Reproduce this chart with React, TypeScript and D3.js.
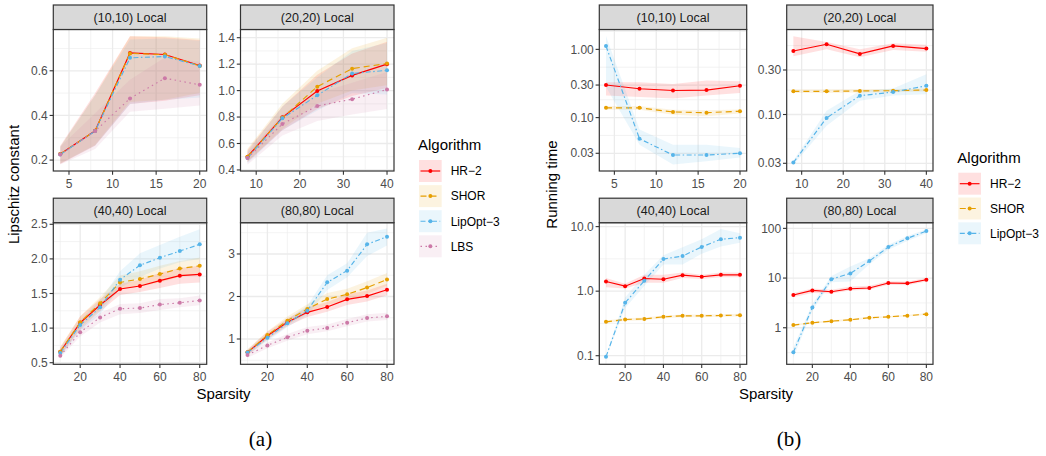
import * as d3 from "d3";

const FONT = "'Liberation Sans', Arial, Helvetica, sans-serif";

// algorithms, in legend / drawing order
const algorithms = ["HR\u22122", "SHOR", "LipOpt\u22123", "LBS"];
const colors = ["#FF0000", "#E69F00", "#56B4E9", "#CC79A7"];
const dashes = ["", "6,4", "5,2.5,1.5,2.5", "1.5,3.5"];

// sparsity values per network size
const sp10 = [4, 8, 12, 16, 20];
const sp20 = [8, 16, 24, 32, 40];
const sp40 = [10, 20, 30, 40, 50, 60, 70, 80];
const sp80 = [10, 20, 30, 40, 50, 60, 70, 80];

// ---- (a) Lipschitz constant ----
// (10,10)
const lc10Hr = [0.227, 0.331, 0.68, 0.673, 0.624];
const lc10HrLo = [0.182, 0.264, 0.451, 0.466, 0.49];
const lc10HrHi = [0.264, 0.5, 0.755, 0.75, 0.738];
const lc10Shor = [0.227, 0.331, 0.678, 0.672, 0.622];
const lc10ShorLo = [0.185, 0.268, 0.46, 0.47, 0.5];
const lc10ShorHi = [0.26, 0.49, 0.755, 0.755, 0.745];
const lc10Lip = [0.225, 0.33, 0.658, 0.664, 0.622];
const lc10LipLo = [0.185, 0.265, 0.45, 0.47, 0.48];
const lc10LipHi = [0.26, 0.49, 0.74, 0.745, 0.735];
const lc10Lbs = [0.225, 0.33, 0.476, 0.567, 0.537];
const lc10LbsLo = [0.18, 0.25, 0.417, 0.43, 0.444];
const lc10LbsHi = [0.26, 0.41, 0.56, 0.66, 0.64];
// (20,20)
const lc20Hr = [0.5, 0.798, 0.997, 1.115, 1.2];
const lc20HrLo = [0.46, 0.7, 0.86, 0.96, 1.02];
const lc20HrHi = [0.55, 0.88, 1.12, 1.28, 1.37];
const lc20Shor = [0.5, 0.795, 1.03, 1.166, 1.205];
const lc20ShorLo = [0.46, 0.71, 0.9, 1.0, 1.04];
const lc20ShorHi = [0.56, 0.9, 1.15, 1.32, 1.4];
const lc20Lip = [0.49, 0.79, 0.964, 1.13, 1.153];
const lc20LipLo = [0.45, 0.7, 0.85, 0.98, 0.97];
const lc20LipHi = [0.54, 0.88, 1.1, 1.3, 1.36];
const lc20Lbs = [0.49, 0.748, 0.884, 0.935, 1.008];
const lc20LbsLo = [0.44, 0.66, 0.77, 0.82, 0.86];
const lc20LbsHi = [0.53, 0.82, 0.98, 1.06, 1.14];
// (40,40)
const lc40Hr = [0.659, 1.078, 1.334, 1.565, 1.608, 1.686, 1.758, 1.776];
const lc40HrLo = [0.6, 0.98, 1.24, 1.48, 1.52, 1.58, 1.64, 1.66];
const lc40HrHi = [0.72, 1.17, 1.42, 1.64, 1.7, 1.8, 1.87, 1.9];
const lc40Shor = [0.66, 1.083, 1.36, 1.66, 1.71, 1.78, 1.86, 1.9];
const lc40ShorLo = [0.6, 1.0, 1.26, 1.56, 1.6, 1.66, 1.74, 1.78];
const lc40ShorHi = [0.73, 1.17, 1.45, 1.76, 1.82, 1.9, 1.97, 2.02];
const lc40Lip = [0.64, 1.045, 1.3, 1.7, 1.907, 2.017, 2.113, 2.21];
const lc40LipLo = [0.58, 0.96, 1.2, 1.58, 1.74, 1.86, 1.95, 2.0];
const lc40LipHi = [0.7, 1.12, 1.4, 1.82, 2.08, 2.2, 2.32, 2.43];
const lc40Lbs = [0.601, 0.94, 1.155, 1.28, 1.29, 1.34, 1.365, 1.4];
const lc40LbsLo = [0.57, 0.88, 1.08, 1.2, 1.22, 1.26, 1.3, 1.33];
const lc40LbsHi = [0.64, 1.0, 1.22, 1.35, 1.36, 1.42, 1.43, 1.47];
// (80,80)
const lc80Hr = [0.686, 1.078, 1.392, 1.627, 1.753, 1.933, 2.01, 2.16];
const lc80HrLo = [0.62, 0.98, 1.3, 1.52, 1.64, 1.8, 1.88, 2.03];
const lc80HrHi = [0.75, 1.17, 1.48, 1.74, 1.87, 2.05, 2.14, 2.3];
const lc80Shor = [0.69, 1.094, 1.43, 1.706, 1.94, 2.05, 2.21, 2.4];
const lc80ShorLo = [0.63, 1.0, 1.33, 1.6, 1.8, 1.92, 2.06, 2.25];
const lc80ShorHi = [0.76, 1.18, 1.53, 1.82, 2.08, 2.18, 2.36, 2.55];
const lc80Lip = [0.68, 1.03, 1.37, 1.667, 2.333, 2.608, 3.227, 3.408];
const lc80LipLo = [0.62, 0.95, 1.28, 1.56, 2.15, 2.45, 2.95, 3.2];
const lc80LipHi = [0.74, 1.12, 1.46, 1.78, 2.5, 2.78, 3.5, 3.6];
const lc80Lbs = [0.624, 0.85, 1.04, 1.196, 1.26, 1.384, 1.494, 1.533];
const lc80LbsLo = [0.56, 0.78, 0.96, 1.11, 1.18, 1.3, 1.41, 1.45];
const lc80LbsHi = [0.69, 0.92, 1.12, 1.28, 1.34, 1.47, 1.58, 1.62];

// ---- (b) Running time ----
// (10,10)
const rt10Hr = [0.3, 0.265, 0.25, 0.253, 0.293];
const rt10HrLo = [0.21, 0.2, 0.19, 0.21, 0.23];
const rt10HrHi = [0.33, 0.33, 0.31, 0.35, 0.34];
const rt10Shor = [0.139, 0.139, 0.121, 0.118, 0.124];
const rt10ShorLo = [0.13, 0.13, 0.11, 0.105, 0.115];
const rt10ShorHi = [0.148, 0.148, 0.13, 0.128, 0.132];
const rt10Lip = [1.12, 0.049, 0.0283, 0.0283, 0.03];
const rt10LipLo = [0.28, 0.04, 0.0206, 0.023, 0.026];
const rt10LipHi = [1.57, 0.067, 0.04, 0.04, 0.0358];
// (20,20)
const rt20Hr = [0.48, 0.566, 0.446, 0.543, 0.509];
const rt20HrLo = [0.42, 0.5, 0.41, 0.49, 0.47];
const rt20HrHi = [0.69, 0.6, 0.5, 0.58, 0.56];
const rt20Shor = [0.177, 0.177, 0.179, 0.18, 0.183];
const rt20ShorLo = [0.17, 0.17, 0.172, 0.173, 0.176];
const rt20ShorHi = [0.185, 0.185, 0.187, 0.188, 0.19];
const rt20Lip = [0.0305, 0.092, 0.159, 0.174, 0.203];
const rt20LipLo = [0.029, 0.076, 0.14, 0.16, 0.165];
const rt20LipHi = [0.032, 0.11, 0.18, 0.19, 0.27];
// (40,40)
const rt40Hr = [1.41, 1.195, 1.57, 1.53, 1.77, 1.67, 1.79, 1.79];
const rt40HrLo = [1.15, 1.1, 1.35, 1.35, 1.6, 1.55, 1.65, 1.65];
const rt40HrHi = [1.6, 1.3, 1.8, 1.8, 1.95, 1.8, 1.95, 1.95];
const rt40Shor = [0.335, 0.364, 0.372, 0.4, 0.415, 0.415, 0.42, 0.425];
const rt40ShorLo = [0.32, 0.345, 0.355, 0.38, 0.395, 0.395, 0.4, 0.405];
const rt40ShorHi = [0.35, 0.38, 0.39, 0.42, 0.435, 0.435, 0.44, 0.445];
const rt40Lip = [0.096, 0.66, 1.45, 3.15, 3.5, 4.84, 6.37, 6.75];
const rt40LipLo = [0.093, 0.55, 1.2, 2.6, 2.6, 3.8, 4.9, 5.6];
const rt40LipHi = [0.1, 0.8, 1.8, 3.6, 4.8, 6.4, 9.16, 7.9];
// (80,80)
const rt80Hr = [4.55, 5.65, 5.31, 6.1, 6.3, 7.94, 7.82, 9.25];
const rt80HrLo = [4.1, 5.0, 4.9, 5.6, 5.8, 7.3, 7.2, 8.5];
const rt80HrHi = [5.0, 6.2, 5.8, 6.8, 7.0, 8.6, 8.5, 10.0];
const rt80Shor = [1.13, 1.26, 1.36, 1.45, 1.59, 1.66, 1.75, 1.88];
const rt80ShorLo = [1.08, 1.2, 1.3, 1.39, 1.52, 1.59, 1.68, 1.8];
const rt80ShorHi = [1.18, 1.32, 1.42, 1.51, 1.66, 1.73, 1.82, 1.96];
const rt80Lip = [0.32, 2.57, 9.5, 12.4, 22, 42, 63, 88];
const rt80LipLo = [0.25, 2.2, 8.2, 8.5, 19, 37, 56, 80];
const rt80LipHi = [0.4, 3.0, 11, 17, 25, 47, 70, 96];

// tick values and labels
const xTicks10 = [5, 10, 15, 20];
const xTicks20 = [10, 20, 30, 40];
const xTicks40 = [20, 40, 60, 80];
const lcTicks10 = [0.2, 0.4, 0.6];
const lcTicks20 = [0.4, 0.6, 0.8, 1.0, 1.2, 1.4];
const lcTicks40 = [0.5, 1.0, 1.5, 2.0, 2.5];
const lcTicks80 = [1, 2, 3];
const rtTicks10 = [0.03, 0.1, 0.3, 1];
const rtLabels10 = ["0.03", "0.10", "0.30", "1.00"];
const rtTicks20 = [0.03, 0.1, 0.3];
const rtLabels20 = ["0.03", "0.10", "0.30"];
const rtTicks40 = [0.1, 1, 10];
const rtLabels40 = ["0.1", "1.0", "10.0"];
const rtTicks80 = [1, 10, 100];
const rtLabels80 = ["1", "10", "100"];

type Band = { mean: number[]; lo: number[]; hi: number[] };
type PanelSpec = {
  label: string;
  xs: number[];
  series: Band[];
  xTicks: number[];
  yTicks: number[];
  yLabels: string[];
  yDomain: [number, number];
  log: boolean;
  box: [number, number, number, number];
};

const STRIP_H = 24.5;
const TICK = 3.7;

function minors(majors: number[], lo: number, hi: number, log: boolean) {
  const t = (v: number) => (log ? Math.log10(v) : v);
  const inv = (v: number) => (log ? Math.pow(10, v) : v);
  const m = majors.map(t);
  const step = m[1] - m[0];
  const out: number[] = [];
  for (let i = -1; i < m.length; i++) {
    const mid = i < 0 ? m[0] - step / 2 : m[i] + step / 2;
    const v = inv(mid);
    if (v > lo && v < hi) out.push(v);
  }
  return out;
}

function Panel({ spec, id }: { spec: PanelSpec; id: string }) {
  const [x0, x1, y0, y1] = spec.box;
  const [xa, xb] = d3.extent(spec.xs) as [number, number];
  const pad = (xb - xa) * 0.05;
  const x = d3.scaleLinear().domain([xa - pad, xb + pad]).range([x0, x1]);
  const y = (spec.log ? d3.scaleLog() : d3.scaleLinear())
    .domain(spec.yDomain)
    .range([y1, y0]);

  const xMinor = minors(spec.xTicks, xa - pad, xb + pad, false);
  const yMinor = minors(spec.yTicks, spec.yDomain[0], spec.yDomain[1], spec.log);

  const line = d3
    .line<number>()
    .x((_, i) => x(spec.xs[i]))
    .y((d) => y(d));

  return (
    <g>
      <defs>
        <clipPath id={id}>
          <rect x={x0} y={y0} width={x1 - x0} height={y1 - y0} />
        </clipPath>
      </defs>
      <rect x={x0} y={y0} width={x1 - x0} height={y1 - y0} fill="#fff" />
      {xMinor.map((v) => (
        <line key={"xm" + v} x1={x(v)} x2={x(v)} y1={y0} y2={y1} stroke="#EBEBEB" strokeWidth={0.6} />
      ))}
      {yMinor.map((v) => (
        <line key={"ym" + v} x1={x0} x2={x1} y1={y(v)} y2={y(v)} stroke="#EBEBEB" strokeWidth={0.6} />
      ))}
      {spec.xTicks.map((v) => (
        <line key={"xM" + v} x1={x(v)} x2={x(v)} y1={y0} y2={y1} stroke="#EBEBEB" strokeWidth={1.3} />
      ))}
      {spec.yTicks.map((v) => (
        <line key={"yM" + v} x1={x0} x2={x1} y1={y(v)} y2={y(v)} stroke="#EBEBEB" strokeWidth={1.3} />
      ))}
      <g clipPath={`url(#${id})`}>
        {spec.series.map((s, k) => {
          const area = d3
            .area<number>()
            .x((_, i) => x(spec.xs[i]))
            .y0((_, i) => y(s.lo[i]))
            .y1((_, i) => y(s.hi[i]));
          return <path key={"r" + k} d={area(s.mean) || ""} fill={colors[k]} fillOpacity={0.12} />;
        })}
        {spec.series.map((s, k) => (
          <path
            key={"l" + k}
            d={line(s.mean) || ""}
            fill="none"
            stroke={colors[k]}
            strokeWidth={1.15}
            strokeDasharray={dashes[k] || undefined}
          />
        ))}
        {spec.series.map((s, k) =>
          s.mean.map((v, i) => (
            <circle key={"p" + k + "_" + i} cx={x(spec.xs[i])} cy={y(v)} r={2} fill={colors[k]} />
          ))
        )}
      </g>
      <rect x={x0} y={y0} width={x1 - x0} height={y1 - y0} fill="none" stroke="#333333" strokeWidth={1.2} />
      {/* strip */}
      <rect x={x0} y={y0 - STRIP_H} width={x1 - x0} height={STRIP_H} fill="#D9D9D9" stroke="#333333" strokeWidth={1.2} />
      <text x={(x0 + x1) / 2} y={y0 - STRIP_H / 2 + 4.5} textAnchor="middle" fontSize={12.5} fill="#1A1A1A" fontFamily={FONT}>
        {spec.label}
      </text>
      {/* axes */}
      {spec.xTicks.map((v) => (
        <g key={"xt" + v}>
          <line x1={x(v)} x2={x(v)} y1={y1} y2={y1 + TICK} stroke="#333333" strokeWidth={1.1} />
          <text x={x(v)} y={y1 + 16.6} textAnchor="middle" fontSize={12} fill="#4D4D4D" fontFamily={FONT}>
            {v}
          </text>
        </g>
      ))}
      {spec.yTicks.map((v, i) => (
        <g key={"yt" + v}>
          <line x1={x0 - TICK} x2={x0} y1={y(v)} y2={y(v)} stroke="#333333" strokeWidth={1.1} />
          <text x={x0 - 5.5} y={y(v) + 4.2} textAnchor="end" fontSize={12} fill="#4D4D4D" fontFamily={FONT}>
            {spec.yLabels[i]}
          </text>
        </g>
      ))}
    </g>
  );
}

function Legend({ x, y0, keys, pitch }: { x: number; y0: number; keys: number; pitch: number }) {
  const kw = 22.7;
  const kh = 22;
  return (
    <g fontFamily={FONT}>
      <text x={x - 1} y={y0 - 10} fontSize={15} fill="#000">
        Algorithm
      </text>
      {algorithms.slice(0, keys).map((a, k) => {
        const ky = y0 + k * pitch;
        return (
          <g key={a}>
            <rect x={x} y={ky} width={kw} height={kh} fill="#fff" />
            <rect x={x} y={ky} width={kw} height={kh} fill={colors[k]} fillOpacity={0.12} />
            <line
              x1={x + 1.5}
              x2={x + kw - 1.5}
              y1={ky + kh / 2}
              y2={ky + kh / 2}
              stroke={colors[k]}
              strokeWidth={1.15}
              strokeDasharray={dashes[k] || undefined}
            />
            <circle cx={x + kw / 2} cy={ky + kh / 2} r={2} fill={colors[k]} />
            <text x={x + 31.7} y={ky + kh / 2 + 4.3} fontSize={12} fill="#000">
              {a}
            </text>
          </g>
        );
      })}
    </g>
  );
}

const LC = [53.3, 206.7];
const LC2 = [240.5, 394];
const RC = [599.3, 746.7];
const RC2 = [786.7, 933];
const TOP = [29.5, 171];
const BOT = [222.7, 364.3];

const panels: PanelSpec[] = [
  {
    label: "(10,10) Local", xs: sp10, xTicks: xTicks10, yTicks: lcTicks10, yLabels: lcTicks10.map((v) => v.toFixed(1)),
    yDomain: [0.151, 0.785], log: false, box: [LC[0], LC[1], TOP[0], TOP[1]],
    series: [
      { mean: lc10Hr, lo: lc10HrLo, hi: lc10HrHi },
      { mean: lc10Shor, lo: lc10ShorLo, hi: lc10ShorHi },
      { mean: lc10Lip, lo: lc10LipLo, hi: lc10LipHi },
      { mean: lc10Lbs, lo: lc10LbsLo, hi: lc10LbsHi },
    ],
  },
  {
    label: "(20,20) Local", xs: sp20, xTicks: xTicks20, yTicks: lcTicks20, yLabels: lcTicks20.map((v) => v.toFixed(1)),
    yDomain: [0.392, 1.462], log: false, box: [LC2[0], LC2[1], TOP[0], TOP[1]],
    series: [
      { mean: lc20Hr, lo: lc20HrLo, hi: lc20HrHi },
      { mean: lc20Shor, lo: lc20ShorLo, hi: lc20ShorHi },
      { mean: lc20Lip, lo: lc20LipLo, hi: lc20LipHi },
      { mean: lc20Lbs, lo: lc20LbsLo, hi: lc20LbsHi },
    ],
  },
  {
    label: "(40,40) Local", xs: sp40, xTicks: xTicks40, yTicks: lcTicks40, yLabels: lcTicks40.map((v) => v.toFixed(1)),
    yDomain: [0.477, 2.523], log: false, box: [LC[0], LC[1], BOT[0], BOT[1]],
    series: [
      { mean: lc40Hr, lo: lc40HrLo, hi: lc40HrHi },
      { mean: lc40Shor, lo: lc40ShorLo, hi: lc40ShorHi },
      { mean: lc40Lip, lo: lc40LipLo, hi: lc40LipHi },
      { mean: lc40Lbs, lo: lc40LbsLo, hi: lc40LbsHi },
    ],
  },
  {
    label: "(80,80) Local", xs: sp80, xTicks: xTicks40, yTicks: lcTicks80, yLabels: lcTicks80.map((v) => String(v)),
    yDomain: [0.405, 3.736], log: false, box: [LC2[0], LC2[1], BOT[0], BOT[1]],
    series: [
      { mean: lc80Hr, lo: lc80HrLo, hi: lc80HrHi },
      { mean: lc80Shor, lo: lc80ShorLo, hi: lc80ShorHi },
      { mean: lc80Lip, lo: lc80LipLo, hi: lc80LipHi },
      { mean: lc80Lbs, lo: lc80LbsLo, hi: lc80LbsHi },
    ],
  },
  {
    label: "(10,10) Local", xs: sp10, xTicks: xTicks10, yTicks: rtTicks10, yLabels: rtLabels10,
    yDomain: [0.0165, 1.955], log: true, box: [RC[0], RC[1], TOP[0], TOP[1]],
    series: [
      { mean: rt10Hr, lo: rt10HrLo, hi: rt10HrHi },
      { mean: rt10Shor, lo: rt10ShorLo, hi: rt10ShorHi },
      { mean: rt10Lip, lo: rt10LipLo, hi: rt10LipHi },
    ],
  },
  {
    label: "(20,20) Local", xs: sp20, xTicks: xTicks20, yTicks: rtTicks20, yLabels: rtLabels20,
    yDomain: [0.0248, 0.815], log: true, box: [RC2[0], RC2[1], TOP[0], TOP[1]],
    series: [
      { mean: rt20Hr, lo: rt20HrLo, hi: rt20HrHi },
      { mean: rt20Shor, lo: rt20ShorLo, hi: rt20ShorHi },
      { mean: rt20Lip, lo: rt20LipLo, hi: rt20LipHi },
    ],
  },
  {
    label: "(40,40) Local", xs: sp40, xTicks: xTicks40, yTicks: rtTicks40, yLabels: rtLabels40,
    yDomain: [0.0736, 11.5], log: true, box: [RC[0], RC[1], BOT[0], BOT[1]],
    series: [
      { mean: rt40Hr, lo: rt40HrLo, hi: rt40HrHi },
      { mean: rt40Shor, lo: rt40ShorLo, hi: rt40ShorHi },
      { mean: rt40Lip, lo: rt40LipLo, hi: rt40LipHi },
    ],
  },
  {
    label: "(80,80) Local", xs: sp80, xTicks: xTicks40, yTicks: rtTicks80, yLabels: rtLabels80,
    yDomain: [0.184, 130], log: true, box: [RC2[0], RC2[1], BOT[0], BOT[1]],
    series: [
      { mean: rt80Hr, lo: rt80HrLo, hi: rt80HrHi },
      { mean: rt80Shor, lo: rt80ShorLo, hi: rt80ShorHi },
      { mean: rt80Lip, lo: rt80LipLo, hi: rt80LipHi },
    ],
  },
];

export default function App() {
  return (
    <svg
      width={1046}
      height={456}
      style={{ position: "absolute", left: 0, top: 0, background: "#fff" }}
      fontFamily={FONT}
    >
      <rect width={1046} height={456} fill="#fff" />
      {panels.map((p, i) => (
        <Panel key={i} spec={p} id={"clip" + i} />
      ))}
      <text transform="translate(19,184.5) rotate(-90)" textAnchor="middle" fontSize={15} fill="#000">
        Lipschitz constant
      </text>
      <text transform="translate(557,184.5) rotate(-90)" textAnchor="middle" fontSize={15} fill="#000">
        Running time
      </text>
      <text x={223.5} y={399} textAnchor="middle" fontSize={15} fill="#000">
        Sparsity
      </text>
      <text x={766} y={399} textAnchor="middle" fontSize={15} fill="#000">
        Sparsity
      </text>
      <Legend x={419} y0={160} keys={4} pitch={25.1} />
      <Legend x={958.3} y0={172.7} keys={3} pitch={24.8} />
      <text x={260.5} y={446} textAnchor="middle" fontSize={21} fontFamily="'Liberation Serif', 'Times New Roman', serif" fill="#000">
        (a)
      </text>
      <text x={789} y={446} textAnchor="middle" fontSize={21} fontFamily="'Liberation Serif', 'Times New Roman', serif" fill="#000">
        (b)
      </text>
    </svg>
  );
}
